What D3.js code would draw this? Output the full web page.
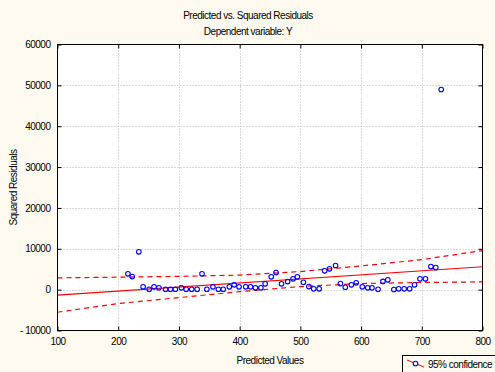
<!DOCTYPE html>
<meta charset="utf-8">

<!-- Load d3.js -->
<script src="https://d3js.org/d3.v7.min.js"></script>

<style>
  body { margin: 0; background: #fffaf0; }
  text { font-family: "Liberation Sans", Arial, sans-serif; font-size: 10px; letter-spacing: -0.5px; fill: #000; }
</style>

<div id="my_dataviz"></div>

<script>

// data
var predicted = [216, 223, 234, 241, 251, 259, 267, 278, 286, 294, 304, 312, 321, 330, 338, 346,
  356, 365, 373, 383, 391, 399, 410, 418, 426, 435, 442, 452, 460, 469, 479, 488, 495, 505,
  514, 522, 531, 540, 548, 558, 566, 574, 584, 592, 602, 611, 618, 628, 636, 644, 654, 662,
  671, 680, 688, 697, 706, 715, 723, 732];
var sqResiduals = [3870, 3200, 9250, 690, 100, 690, 440, 100, 100, 100, 440, 100, 100, 100, 3870, 100,
  690, 100, 100, 690, 1180, 690, 690, 690, 440, 440, 1420, 3130, 4190, 1420, 1980, 2640, 3130, 1810,
  760, 200, 200, 4600, 5090, 5900, 1490, 590, 1180, 1660, 690, 440, 440, 100, 2000, 2400, 30, 200,
  200, 200, 1180, 2640, 2640, 5650, 5410, 48980];

// fitted line and 95% confidence band
var fitX = [100, 800];
var fitY = [-1350, 5600];
var bandX = [100, 200, 300, 400, 500, 600, 700, 800];
var upper95 = [2890, 3050, 3250, 3560, 4430, 5800, 7350, 9570];
var lower95 = [-5530, -3400, -1950, -500, 760, 1500, 1750, 1900];

var xTicks = [100, 200, 300, 400, 500, 600, 700, 800];
var yTicks = [-10000, 0, 10000, 20000, 30000, 40000, 50000, 60000];
var yTickLabels = ["- 10000", "0", "10000", "20000", "30000", "40000", "50000", "60000"];

var W = 495, H = 372;
var pLeft = 57.5, pRight = 482.5, pTop = 44.5, pBottom = 330.5;

var svg = d3.select("#my_dataviz")
  .append("svg")
  .attr("width", W)
  .attr("height", H);

svg.append("rect").attr("width", W).attr("height", H).attr("fill", "#fffaf0");

var x = d3.scaleLinear().domain([100, 800]).range([pLeft, pRight]);
var y = d3.scaleLinear().domain([-10000, 60000]).range([pBottom, pTop]);

// plot area
svg.append("rect")
  .attr("x", pLeft).attr("y", pTop)
  .attr("width", pRight - pLeft).attr("height", pBottom - pTop)
  .attr("fill", "#ffffff");

// grid
svg.append("g").selectAll("line")
  .data(xTicks.slice(1, -1))
  .join("line")
  .attr("x1", d => Math.round(x(d)) + 0.5).attr("x2", d => Math.round(x(d)) + 0.5)
  .attr("y1", pTop).attr("y2", pBottom)
  .attr("stroke", "#b4b4b4").attr("stroke-dasharray", "1,2");

svg.append("g").selectAll("line")
  .data(yTicks.slice(1, -1))
  .join("line")
  .attr("y1", d => Math.round(y(d)) + 0.5).attr("y2", d => Math.round(y(d)) + 0.5)
  .attr("x1", pLeft).attr("x2", pRight)
  .attr("stroke", "#b4b4b4").attr("stroke-dasharray", "1,2");

// confidence band + fit
var line = d3.line().x(d => x(d[0])).y(d => y(d[1]));

svg.append("path")
  .attr("d", line(d3.zip(bandX, upper95)))
  .attr("fill", "none").attr("stroke", "#ff0000").attr("stroke-width", 1.2)
  .attr("stroke-dasharray", "5,4");

svg.append("path")
  .attr("d", line(d3.zip(bandX, lower95)))
  .attr("fill", "none").attr("stroke", "#ff0000").attr("stroke-width", 1.2)
  .attr("stroke-dasharray", "5,4");

svg.append("path")
  .attr("d", line(d3.zip(fitX, fitY)))
  .attr("fill", "none").attr("stroke", "#ff0000").attr("stroke-width", 1.2);

// points
svg.append("g").selectAll("circle")
  .data(d3.zip(predicted, sqResiduals))
  .join("circle")
  .attr("cx", d => x(d[0]))
  .attr("cy", d => y(d[1]))
  .attr("r", 2.3)
  .attr("fill", "none")
  .attr("stroke", "#0000ff")
  .attr("stroke-width", 1.1);

// axes (ticks pointing inward on all four sides)
var tickLen = 4;
svg.append("g")
  .attr("transform", "translate(0," + pBottom + ")")
  .call(d3.axisBottom(x).tickValues(xTicks).tickSize(-tickLen).tickPadding(7).tickFormat(d3.format("d")))
  .call(g => g.select(".domain").remove());
svg.append("g")
  .attr("transform", "translate(0," + pTop + ")")
  .call(d3.axisTop(x).tickValues(xTicks).tickSize(-tickLen).tickFormat(""))
  .call(g => g.select(".domain").remove());
svg.append("g")
  .attr("transform", "translate(" + pLeft + ",0)")
  .call(d3.axisLeft(y).tickValues(yTicks).tickSize(-tickLen).tickPadding(7)
    .tickFormat((d, i) => yTickLabels[i]))
  .call(g => g.select(".domain").remove());
svg.append("g")
  .attr("transform", "translate(" + pRight + ",0)")
  .call(d3.axisRight(y).tickValues(yTicks).tickSize(-tickLen).tickFormat(""))
  .call(g => g.select(".domain").remove());

svg.selectAll(".tick line").attr("stroke", "#000");
svg.selectAll(".tick text").attr("font-size", 10).attr("font-family", "Liberation Sans, Arial, sans-serif");

svg.append("rect")
  .attr("x", pLeft).attr("y", pTop)
  .attr("width", pRight - pLeft).attr("height", pBottom - pTop)
  .attr("fill", "none").attr("stroke", "#000");

// titles
svg.append("text").attr("x", 248).attr("y", 19).attr("text-anchor", "middle")
  .text("Predicted vs. Squared Residuals");
svg.append("text").attr("x", 248).attr("y", 35).attr("text-anchor", "middle")
  .text("Dependent variable: Y");
svg.append("text").attr("x", 270).attr("y", 364).attr("text-anchor", "middle")
  .text("Predicted Values");
svg.append("text")
  .attr("transform", "translate(17," + ((pTop + pBottom) / 2) + ") rotate(-90)")
  .attr("text-anchor", "middle")
  .text("Squared Residuals");

// legend
svg.append("rect")
  .attr("x", 402.5).attr("y", 355.5).attr("width", 100).attr("height", 30)
  .attr("fill", "#fffaf0").attr("stroke", "#000");
svg.append("line")
  .attr("x1", 407).attr("y1", 360).attr("x2", 424).attr("y2", 367)
  .attr("stroke", "#ff0000").attr("stroke-width", 1);
svg.append("circle")
  .attr("cx", 415.5).attr("cy", 363.5).attr("r", 2.3)
  .attr("fill", "#fffaf0").attr("stroke", "#0000ff").attr("stroke-width", 1.1);
svg.append("text").attr("x", 428).attr("y", 367.5).text("95% confidence");

</script>
